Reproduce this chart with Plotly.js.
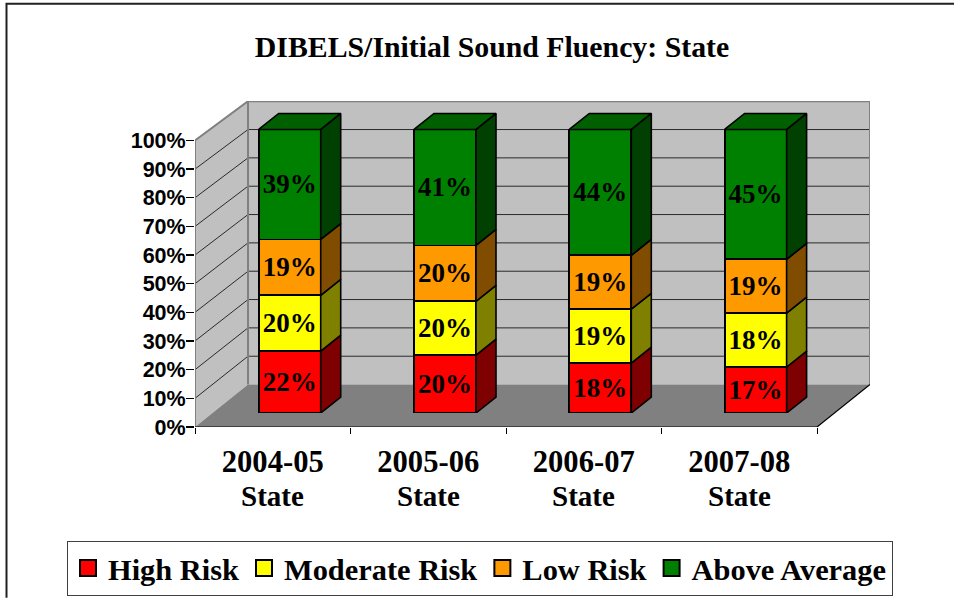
<!DOCTYPE html>
<html>
<head>
<meta charset="utf-8">
<script src="https://cdn.plot.ly/plotly-3.0.1.min.js"></script>
<style>html,body{margin:0;padding:0;background:#fff}#chart{width:954px;height:598px}</style>
</head>
<body>
<div id="chart"></div>
<script>
var categories = ["2004-05", "2005-06", "2006-07", "2007-08"];
var categorySub = "State";
var seriesNames = ["High Risk", "Moderate Risk", "Low Risk", "Above Average"];
var highRisk = [21.8, 20.4, 17.6, 16.2];
var moderateRisk = [19.7, 19.0, 19.0, 19.0];
var lowRisk = [19.7, 19.7, 19.0, 19.0];
var aboveAverage = [38.8, 40.9, 44.4, 45.8];
var highLabels = ["22%", "20%", "18%", "17%"];
var moderateLabels = ["20%", "20%", "19%", "18%"];
var lowLabels = ["19%", "20%", "19%", "19%"];
var aboveLabels = ["39%", "41%", "44%", "45%"];
var frontColors = ["#ff0000", "#ffff00", "#ff9900", "#008000"];
var sideColors = ["#7f0000", "#808000", "#7f4c00", "#004000"];
var topColor = "#006000";
var yTicks = [0, 10, 20, 30, 40, 50, 60, 70, 80, 90, 100];

var W = 954, H = 598;
var L = 195, R = 870, T = 100.5, B = 427;
var PW = R - L, PH = B - T;
var unitX = 155.5, unitY = 2.87;
var xMax = PW / unitX, yMax = PH / unitY;
var wallDX = 53 / unitX;
function lift(v) { return v + (42.5 - 3.2 * v / 100) / unitY; }

// Bars subplot
var barBottom = 413, barUnitY = 2.84, barUnitX = 155.3, barCenter0 = 289.7;
var x2Min = (L - barCenter0) / barUnitX, x2Max = (R - barCenter0) / barUnitX;
var y2Max = (barBottom - T) / barUnitY;
var barWidth = 62 / barUnitX, depthX = 20 / barUnitX, depthY = 16 / barUnitY;

var stacks = [highRisk, moderateRisk, lowRisk, aboveAverage];
var labels = [highLabels, moderateLabels, lowLabels, aboveLabels];
var idx = categories.map(function (c, i) { return i; });
var traces = [];

var serif = "Liberation Serif, Times New Roman, serif";
var sans = "Liberation Sans, Arial, sans-serif";

function poly(xs, ys, fill, lineColor, lineWidth, ax) {
  return { type: "scatter", mode: lineWidth ? "lines" : "none", x: xs, y: ys, fill: "toself", fillcolor: fill,
    line: { color: lineColor || fill, width: lineWidth || 0 }, hoverinfo: "skip", showlegend: false,
    cliponaxis: false, xaxis: ax ? "x2" : "x", yaxis: ax ? "y2" : "y" };
}
function seg(xs, ys, color, width) {
  return { type: "scatter", mode: "lines", x: xs, y: ys, line: { color: color, width: width }, hoverinfo: "skip",
    showlegend: false, cliponaxis: false, xaxis: "x", yaxis: "y" };
}

// walls and floor
traces.push(poly([0, wallDX, wallDX, 0, 0], [0, lift(0), lift(100), 100, 0], "#c0c0c0"));
traces.push(poly([wallDX, xMax, xMax, wallDX, wallDX], [lift(0), lift(0), lift(100), lift(100), lift(0)], "#c0c0c0"));
traces.push(poly([0, xMax - wallDX, xMax, wallDX, 0], [0, 0, lift(0), lift(0), 0], "#808080"));
// grid lines
yTicks.slice(1, 10).forEach(function (v) {
  traces.push(seg([0, wallDX, xMax], [v, lift(v), lift(v)], "#2a2a2a", 1));
});
// wall edges
traces.push(seg([0, 0, wallDX, xMax, xMax], [0, 100, lift(100), lift(100), lift(0)], "#808080", 2));
traces.push(seg([wallDX, wallDX], [lift(0), lift(100)], "#808080", 2));
traces.push(seg([0, xMax - wallDX, xMax], [0, 0, lift(0)], "#000000", 1.2));

// side and top faces, computed from the stacks
var cum = idx.map(function () { return 0; });
stacks.forEach(function (vals, s) {
  var xs = [], ys = [];
  vals.forEach(function (v, i) {
    var xr = i + barWidth / 2, b = cum[i], t = cum[i] + v;
    xs.push(xr, xr + depthX, xr + depthX, xr, xr, null);
    ys.push(b, b + depthY, t + depthY, t, b, null);
    cum[i] = t;
  });
  traces.push(poly(xs, ys, sideColors[s], "#000000", 1.6, true));
});
var tx = [], ty = [];
idx.forEach(function (i) {
  var xl = i - barWidth / 2, xr = i + barWidth / 2, t = cum[i];
  tx.push(xl, xl + depthX, xr + depthX, xr, xl, null);
  ty.push(t, t + depthY, t + depthY, t, t, null);
});
traces.push(poly(tx, ty, topColor, "#000000", 1.6, true));

// front faces
stacks.forEach(function (vals, s) {
  traces.push({ type: "bar", name: seriesNames[s], x: idx, y: vals, width: barWidth, xaxis: "x2", yaxis: "y2",
    marker: { color: frontColors[s], line: { color: "#000000", width: 1.8 } },
    text: labels[s], textposition: "inside", insidetextanchor: "middle", textangle: 0, constraintext: "none",
    insidetextfont: { family: serif, size: 27, color: "#000000", weight: 700 },
    showlegend: false, hoverinfo: "name+text", cliponaxis: false });
});

// legend entries
seriesNames.forEach(function (n, s) {
  traces.push({ type: "scatter", mode: "markers", name: n, x: [null], y: [null], xaxis: "x", yaxis: "y",
    marker: { symbol: "square", size: 16, color: frontColors[s], line: { color: "#000000", width: 2 } } });
});

var tickCentres = [0.5, 1.5, 2.5, 3.5];
var layout = {
  width: W, height: H, autosize: false, showlegend: true,
  paper_bgcolor: "#ffffff", plot_bgcolor: "rgba(0,0,0,0)",
  margin: { l: L, r: W - R, t: T, b: H - B, pad: 0, autoexpand: false },
  barmode: "stack",
  title: { text: "DIBELS/Initial Sound Fluency: State", x: 492 / W, xref: "container", xanchor: "center",
    y: 1 - 47 / H, yref: "container", yanchor: "middle",
    font: { family: serif, size: 29.8, color: "#000000", weight: 700 } },
  xaxis: { domain: [0, 1], range: [0, xMax], anchor: "y", type: "linear", showgrid: false, zeroline: false, showline: false,
    tickmode: "array", tickvals: tickCentres, ticktext: categories,
    ticks: "", ticklen: 0, ticklabelstandoff: 13,
    tickfont: { family: serif, size: 30.6, color: "#000000", weight: 700 },
    minor: { dtick: 1, tick0: 0, ticks: "outside", ticklen: 6, tickwidth: 1, tickcolor: "#000000", showgrid: false } },
  yaxis: { domain: [0, 1], range: [0, yMax], anchor: "x", showgrid: false, zeroline: false, showline: false,
    tickmode: "array", tickvals: yTicks, ticktext: yTicks.map(function (v) { return v + "%"; }),
    ticks: "outside", ticklen: 8, tickwidth: 1.3, tickcolor: "#000000", ticklabelstandoff: -4,
    tickfont: { family: sans, size: 21.5, color: "#000000", weight: 700 } },
  xaxis2: { domain: [0, 1], range: [x2Min, x2Max], anchor: "y2", visible: false, fixedrange: true },
  yaxis2: { domain: [(B - barBottom) / PH, 1], range: [0, y2Max], anchor: "x2", visible: false, fixedrange: true },
  annotations: tickCentres.map(function (x) {
    return { text: categorySub, xref: "x", yref: "paper", x: x, y: (B - 496.5) / PH, yanchor: "middle", xanchor: "center",
      showarrow: false, font: { family: serif, size: 29, color: "#000000", weight: 700 } };
  }),
  legend: { orientation: "h", traceorder: "normal", x: (67 - L) / PW, y: (B - 541) / PH, xanchor: "left", yanchor: "top",
    bgcolor: "#ffffff", bordercolor: "#404040", borderwidth: 1,
    font: { family: serif, size: 30.4, color: "#000000", weight: 700 } },
  shapes: [{ type: "path", xref: "paper", yref: "paper", layer: "below",
    path: "M " + ((6.5 - L) / PW) + " " + ((B - H) / PH) + " L " + ((6.5 - L) / PW) + " " + ((B - 3) / PH) + " L " + ((W - L) / PW) + " " + ((B - 3) / PH),
    line: { color: "#202020", width: 2 } }]
};
Plotly.newPlot("chart", traces, layout, { displayModeBar: false, staticPlot: true });
</script>
</body>
</html>
